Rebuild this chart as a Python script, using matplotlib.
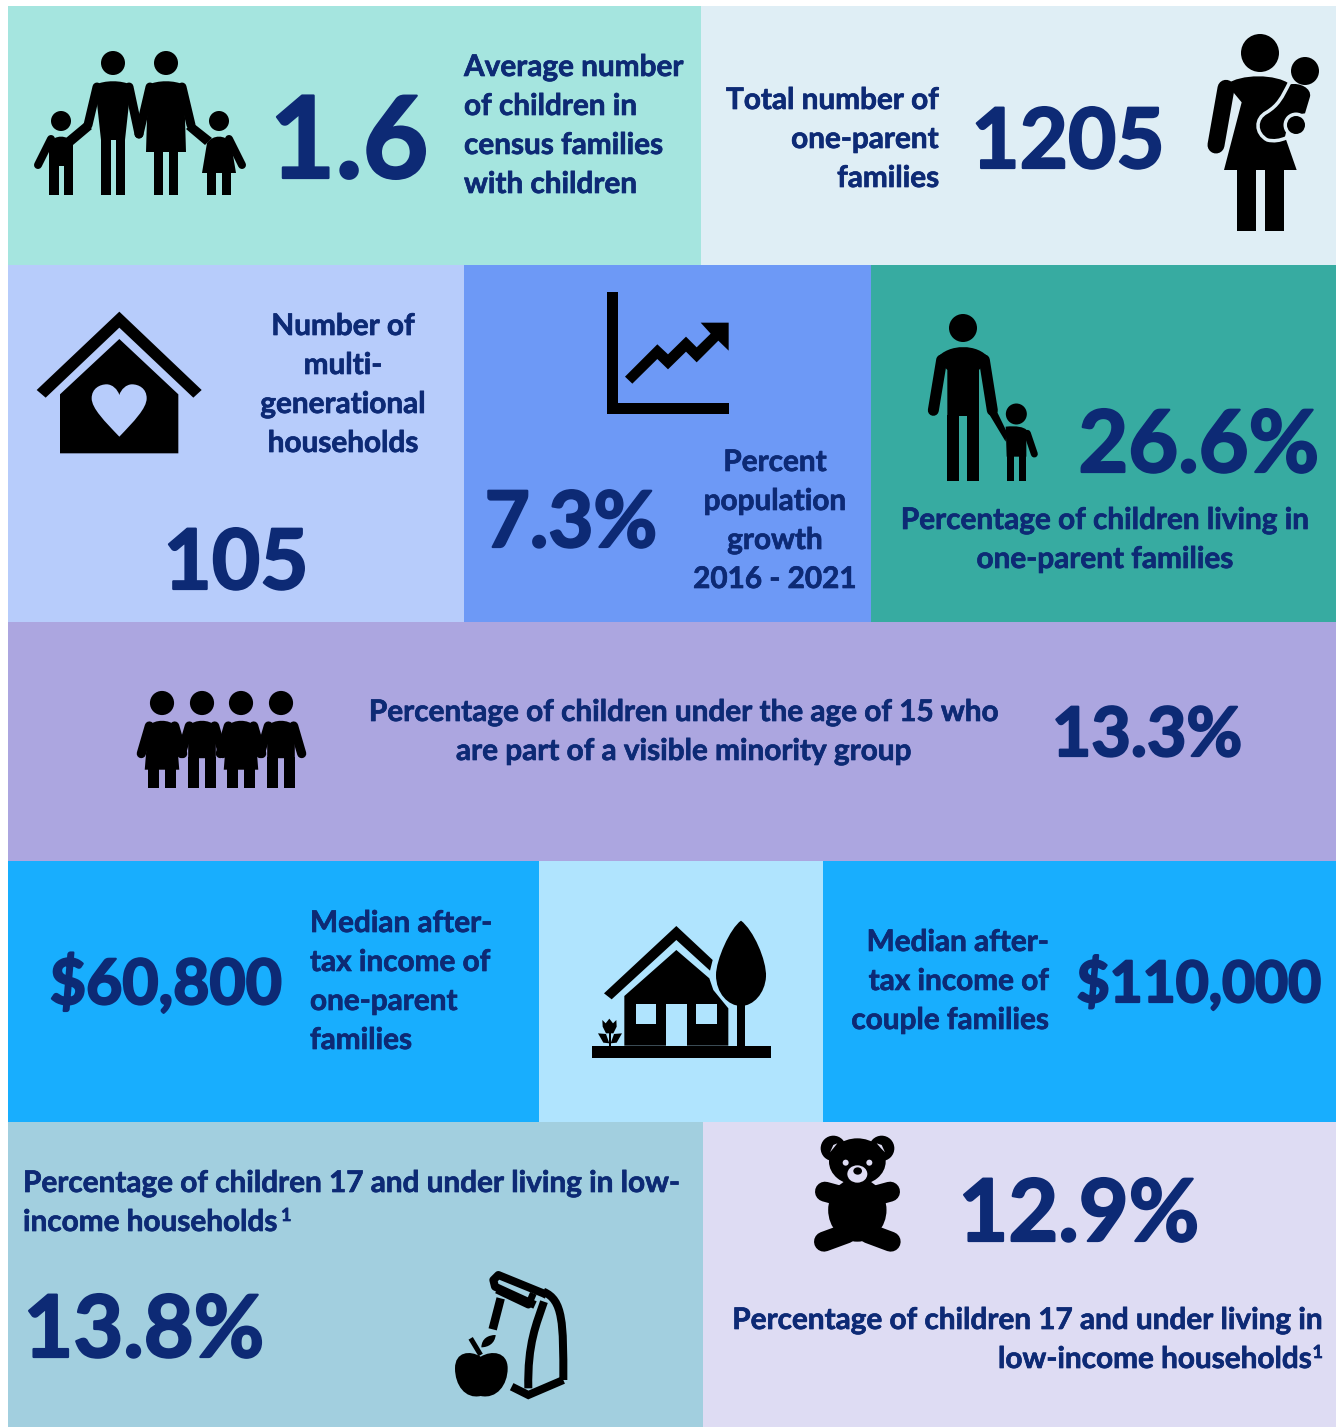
#!/usr/bin/env python3
import matplotlib
matplotlib.use("Agg")
import matplotlib.pyplot as plt
import matplotlib.patheffects as pe
from matplotlib.patches import Circle, Ellipse, PathPatch, Polygon, Rectangle
from matplotlib.path import Path

plt.rcParams["font.family"] = ["Lato", "DejaVu Sans"]

INK = "#0d2a75"
BLACK = "#000000"

# panels
PANEL_COLORS = ["#a5e5df", "#dfeef5", "#b7ccfb", "#6d99f6", "#37aba1", "#aca6e0",
                "#18aefe", "#b0e4fe", "#18aefe", "#a2cfdf", "#dedcf3"]

# figures shown on the chart
STAT_VALUES = ["1.6", "1205", "105", "7.3%", "26.6%", "13.3%",
               "$60,800", "$110,000", "13.8%", "12.9%"]

STAT_LABELS = [
    ["Average number", "of children in", "census families", "with children"],
    ["Total number of", "one-parent", "families"],
    ["Number of", "multi-", "generational", "households"],
    ["Percent", "population", "growth", "2016 - 2021"],
    ["Percentage of children living in", "one-parent families"],
    ["Percentage of children under the age of 15 who", "are part of a visible minority group"],
    ["Median after-", "tax income of", "one-parent", "families"],
    ["Median after-", "tax income of", "couple families"],
    ["Percentage of children 17 and under living in low-", "income households"],
    ["Percentage of children 17 and under living in", "low-income households"],
]

# x0, y0, x1, y1 in image pixels
PANEL_BOXES = [(8, 6, 701, 265), (701, 6, 1336, 265), (8, 265, 464, 622), (464, 265, 871, 622),
               (871, 265, 1336, 622), (8, 622, 1336, 861), (8, 861, 539, 1122), (539, 861, 823, 1122),
               (823, 861, 1336, 1122), (8, 1122, 703, 1427), (703, 1122, 1336, 1427)]
# x, baseline, size
VALUE_POS = [(349, 178, 82), (1068, 168, 60), (236, 589, 60), (571, 547, 56), (1199, 472, 62),
             (1147, 756, 49), (166, 1004, 45), (1199, 1002, 41), (144, 1357, 62), (1079, 1241, 62)]
# x, first baseline, align
LABEL_POS = [(464, 76, "left"), (939, 109, "right"), (343, 335, "center"), (775, 471, "center"),
             (1105, 529, "center"), (684, 721, "center"), (310, 932, "left"), (1049, 951, "right"),
             (23, 1192, "left"), (1323, 1329, "right")]

fig = plt.figure(figsize=(13.36, 14.27), dpi=100)
ax = fig.add_axes([0, 0, 1, 1])
ax.set_xlim(0, 1336)
ax.set_ylim(1427, 0)
ax.axis("off")


def px(w):
    return w * 0.72


def poly(pts, color=BLACK, z=3):
    ax.add_patch(Polygon(pts, closed=True, facecolor=color, edgecolor="none", zorder=z))


def rect(x0, y0, x1, y1, color=BLACK, z=3):
    ax.add_patch(Rectangle((x0, y0), x1 - x0, y1 - y0, facecolor=color, edgecolor="none", zorder=z))


def disc(x, y, r, color=BLACK, z=3):
    ax.add_patch(Circle((x, y), r, color=color, lw=0, zorder=z))


def line(pts, w, color=BLACK, z=3, cap="round", join="round"):
    ax.plot([p[0] for p in pts], [p[1] for p in pts], color=color, lw=px(w), zorder=z,
            solid_capstyle=cap, solid_joinstyle=join)


def curve(verts, codes, color=BLACK, z=3, fill=True, w=0, cap="butt"):
    p = PathPatch(Path(verts, codes), facecolor=color if fill else "none",
                  edgecolor=color if w else "none", lw=px(w), zorder=z, capstyle=cap, joinstyle="round")
    ax.add_patch(p)


def crop(pts, ox, oy):
    return [(ox + x / 3, oy + y / 3) for x, y in pts]


def person(cx, cy, s, r, sh, sh_y, leg, crotch, bottom, hem=None, arms=(), arm_w=9):
    disc(cx, cy, r * s)
    top = (r + 5) * (0.9 if r < 11 else 1)
    verts = [(cx - sh * s, cy + sh_y * s), (cx - sh * .5 * s, cy + top * s), (cx + sh * .5 * s, cy + top * s),
             (cx + sh * s, cy + sh_y * s)]
    codes = [Path.MOVETO, Path.CURVE4, Path.CURVE4, Path.CURVE4]
    if hem:
        hw, hy = hem
        verts += [(cx + hw * s, cy + hy * s), (cx - hw * s, cy + hy * s), (cx - sh * s, cy + sh_y * s)]
        codes += [Path.LINETO, Path.LINETO, Path.CLOSEPOLY]
        curve(verts, codes)
        rect(cx - leg * s, cy + (hy - 1) * s, cx - 3 * s, cy + bottom * s)
        rect(cx + 3 * s, cy + (hy - 1) * s, cx + leg * s, cy + bottom * s)
    else:
        verts += [(cx + leg * s, cy + crotch * s), (cx - leg * s, cy + crotch * s), (cx - sh * s, cy + sh_y * s)]
        codes += [Path.LINETO, Path.LINETO, Path.CLOSEPOLY]
        curve(verts, codes)
        rect(cx - leg * s, cy + (crotch - 1) * s, cx - 2.5 * s, cy + bottom * s)
        rect(cx + 2.5 * s, cy + (crotch - 1) * s, cx + leg * s, cy + bottom * s)
    for a in arms:
        line([(cx + x * s, cy + y * s) for x, y in a], arm_w * s)


def icon_family():
    man_arms = [[(-16, 24), (-25, 62)], [(16, 24), (26, 71)]]
    woman_arms = [[(-16, 24), (-27, 71)], [(16, 24), (25, 62)]]
    person(113, 63, 1, 12, 18, 22, 12, 77, 132, None, man_arms)
    person(166, 63, 1, 12, 18, 22, 12, 77, 132, (20, 89), woman_arms)
    person(61, 121, 1, 10, 12, 22, 12, 45, 74, None, [[(-10, 18), (-23, 44)]], 8)
    person(219, 121, 1, 10, 12, 22, 12, 45, 74, (17, 52), [[(10, 18), (23, 44)]], 8)
    poly([(84, 123), (92, 129), (73, 145), (66, 138)])
    poly([(193, 123), (186, 129), (205, 145), (212, 138)])


def icon_mother(bg):
    o = (1190, 25)
    disc(1260, 53, 19)
    verts = crop([(110, 178), (150, 146), (260, 146), (300, 178), (330, 172), (365, 190), (360, 215),
                  (345, 265), (300, 272), (285, 335), (320, 435), (102, 435), (155, 232), (110, 178)], *o)
    curve(verts, [Path.MOVETO, Path.CURVE4, Path.CURVE4, Path.CURVE4, Path.CURVE4, Path.CURVE4, Path.CURVE4]
          + [Path.LINETO] * 6 + [Path.CLOSEPOLY])
    line(crop([(108, 190), (78, 360)], *o), 17)
    rect(1237, 168, 1256, 231)
    rect(1265, 168, 1284, 231)
    curve(crop([(300, 170), (275, 220), (265, 240), (230, 262), (195, 280), (195, 325), (232, 345),
                (260, 352), (290, 338)], *o),
          [Path.MOVETO] + [Path.CURVE4] * 3 + [Path.CURVE4] * 3 + [Path.CURVE3] * 2,
          color=bg, z=5, fill=False, w=3.5)
    disc(1296, 125, 12.5, bg, z=6)
    disc(1296, 125, 9, z=7)
    disc(1305, 71, 14, z=7)


def heart(o, color):
    pts = crop([(283, 410), (240, 365), (200, 325), (200, 295), (200, 265), (225, 253), (245, 253),
                (262, 253), (278, 268), (283, 285), (288, 268), (304, 253), (321, 253), (341, 253),
                (365, 265), (365, 295), (365, 325), (326, 365), (283, 410)], *o)
    curve(pts, [Path.MOVETO] + [Path.CURVE4] * 18, color=color, z=5)


def icon_house(bg):
    o = (25, 300)
    poly(crop([(35, 270), (283, 35), (530, 270), (505, 293), (283, 83), (62, 293)], *o))
    poly(crop([(105, 283), (283, 117), (460, 283), (460, 460), (105, 460)], *o))
    heart(o, bg)


def icon_growth():
    o = (600, 285)
    poly(crop([(22, 22), (53, 22), (53, 355), (386, 355), (386, 387), (22, 387)], *o))
    poly(crop([(75, 275), (172, 178), (204, 208), (258, 155), (290, 187), (332, 146), (302, 113),
               (386, 113), (386, 197), (355, 167), (290, 232), (258, 200), (204, 253), (172, 222),
               (97, 296)], *o))


def icon_father():
    o = (915, 305)
    disc(963, 328, 14)
    verts = crop([(65, 160), (100, 115), (190, 115), (222, 160), (192, 195), (192, 333), (97, 333),
                  (97, 195), (65, 160)], *o)
    curve(verts, [Path.MOVETO, Path.CURVE4, Path.CURVE4, Path.CURVE4] + [Path.LINETO] * 4 + [Path.CLOSEPOLY])
    line(crop([(80, 165), (55, 316)], *o), 11)
    line(crop([(208, 165), (232, 316)], *o), 11)
    poly(crop([(218, 320), (245, 318), (275, 380), (272, 410)], *o))
    rect(*crop([(97, 330)], *o)[0], *crop([(133, 527)], *o)[0])
    rect(*crop([(157, 330)], *o)[0], *crop([(192, 527)], *o)[0])
    # child
    disc(*crop([(304, 327)], *o)[0], 10.5)
    curve(crop([(272, 365), (340, 358), (350, 385), (334, 400), (334, 455), (275, 455), (272, 365)], *o),
          [Path.MOVETO, Path.CURVE4, Path.CURVE4, Path.CURVE4, Path.LINETO, Path.LINETO, Path.CLOSEPOLY])
    line(crop([(337, 385), (358, 447)], *o), 7)
    rect(*crop([(275, 450)], *o)[0], *crop([(298, 527)], *o)[0])
    rect(*crop([(311, 450)], *o)[0], *crop([(334, 527)], *o)[0])


def icon_kids():
    for x, dress in zip([162, 202, 241, 281], [True, False, True, False]):
        person(x, 703, 1.15, 10.5, 12, 20, 12, 48, 74, (15, 58) if dress else None,
               [[(-11, 20), (-18, 44)], [(11, 20), (18, 44)]], 8)


def icon_home_tree(bg):
    o = (580, 910)
    poly(crop([(72, 250), (289, 48), (398, 150), (390, 182), (289, 90), (95, 268)], *o))
    poly(crop([(133, 258), (289, 120), (388, 205), (400, 240), (445, 295), (445, 407), (133, 407)], *o))
    rect(*crop([(168, 283)], *o)[0], *crop([(229, 342)], *o)[0], bg, z=4)
    rect(*crop([(349, 283)], *o)[0], *crop([(410, 342)], *o)[0], bg, z=4)
    rect(*crop([(259, 283)], *o)[0], *crop([(320, 407)], *o)[0], bg, z=4)
    curve(crop([(483, 32), (520, 60), (560, 150), (558, 200), (555, 250), (520, 288), (483, 288),
                (445, 288), (408, 250), (408, 195), (408, 150), (450, 55), (483, 32)], *o),
          [Path.MOVETO] + [Path.CURVE4] * 12, z=4)
    rect(*crop([(471, 280)], *o)[0], *crop([(495, 407)], *o)[0], z=4)
    rect(*crop([(35, 407)], *o)[0], *crop([(574, 443)], *o)[0], z=4)
    rect(*crop([(86, 370)], *o)[0], *crop([(94, 407)], *o)[0])
    poly(crop([(67, 330), (77, 340), (88, 326), (99, 340), (109, 330), (110, 350), (100, 370), (78, 370), (68, 350)], *o))
    poly(crop([(54, 370), (78, 372), (88, 400), (70, 398)], *o))
    poly(crop([(126, 370), (102, 372), (92, 400), (110, 398)], *o))


def icon_bag():
    o = (440, 1260)
    line(crop([(285, 135), (165, 80), (160, 60), (175, 45), (310, 100), (320, 105)], *o), 8, join="round", cap="butt")
    line(crop([(280, 100), (265, 135), (170, 90)], *o), 7, cap="butt")
    line(crop([(182, 115), (158, 208)], *o), 8.5, cap="butt")
    curve(crop([(310, 95), (370, 120), (370, 190), (370, 360)], *o),
          [Path.MOVETO, Path.CURVE4, Path.CURVE4, Path.CURVE4], fill=False, w=8)
    curve(crop([(312, 125), (290, 190), (262, 250), (265, 385)], *o),
          [Path.MOVETO, Path.CURVE4, Path.CURVE4, Path.CURVE4], fill=False, w=8)
    line(crop([(370, 360), (265, 405), (215, 380)], *o), 8, cap="butt", join="miter")
    # apple
    curve(crop([(122, 290), (90, 270), (45, 275), (45, 325), (45, 375), (75, 418), (122, 408),
                (170, 418), (203, 375), (203, 325), (203, 275), (155, 270), (122, 290)], *o),
          [Path.MOVETO] + [Path.CURVE4] * 12)
    line(crop([(92, 235), (122, 285)], *o), 5, cap="butt")
    curve(crop([(124, 262), (125, 235), (145, 225), (167, 225), (165, 250), (145, 262), (124, 262)], *o),
          [Path.MOVETO] + [Path.CURVE4] * 6)


def icon_bear(bg):
    o = (800, 1125)

    def c(x, y):
        return crop([(x, y)], *o)[0]
    for x in (100, 245):
        disc(*c(x, 70), 38 / 3)
    ax.add_patch(Ellipse(c(172, 110), 170 / 3, 140 / 3, color=BLACK, lw=0, zorder=3))
    ax.add_patch(Ellipse(c(172, 255), 175 / 3, 190 / 3, color=BLACK, lw=0, zorder=3))
    line(crop([(75, 200), (130, 215)], *o), 20)
    line(crop([(270, 200), (215, 215)], *o), 20)
    line(crop([(72, 350), (140, 325)], *o), 20)
    line(crop([(272, 350), (205, 325)], *o), 20)
    poly(crop([(90, 82), (100, 60), (112, 55), (100, 70)], *o), bg, z=4)
    poly(crop([(255, 82), (245, 60), (230, 55), (243, 70)], *o), bg, z=4)
    for x in (137, 208):
        disc(*c(x, 113), 3, bg, z=4)
    ax.add_patch(Ellipse(c(172, 147), 60 / 3, 52 / 3, color=bg, lw=0, zorder=4))
    ax.add_patch(Ellipse(c(173, 138), 26 / 3, 22 / 3, color=BLACK, lw=0, zorder=5))


for box, color in zip(PANEL_BOXES, PANEL_COLORS):
    rect(*box, color, z=1)

for val, (x, y, size) in zip(STAT_VALUES, VALUE_POS):
    ax.text(x, y, val, ha="center", va="baseline", fontsize=size, fontweight="bold", color=INK,
            path_effects=[pe.withStroke(linewidth=1.6, foreground=INK)])

heavy = [pe.withStroke(linewidth=0.5, foreground=INK)]
for n, (lines, (x, y, ha)) in enumerate(zip(STAT_LABELS, LABEL_POS)):
    for i, s in enumerate(lines):
        # last line of the right hand low-income label leaves room for its footnote
        xx = x - 11 if (n == 9 and i == 1) else x
        ax.text(xx, y + i * 39, s, ha=ha, va="baseline", fontsize=21.4, fontweight="bold", color=INK,
                path_effects=heavy)

# footnote markers
ax.text(281, 1221, "1", fontsize=13, fontweight="bold", color=INK, ha="left", va="baseline", path_effects=heavy)
ax.text(1323, 1358, "1", fontsize=13, fontweight="bold", color=INK, ha="right", va="baseline", path_effects=heavy)

icon_family()
icon_mother(PANEL_COLORS[1])
icon_house(PANEL_COLORS[2])
icon_growth()
icon_father()
icon_kids()
icon_home_tree(PANEL_COLORS[7])
icon_bag()
icon_bear(PANEL_COLORS[10])

fig.savefig("out.png", dpi=100, facecolor="white")
